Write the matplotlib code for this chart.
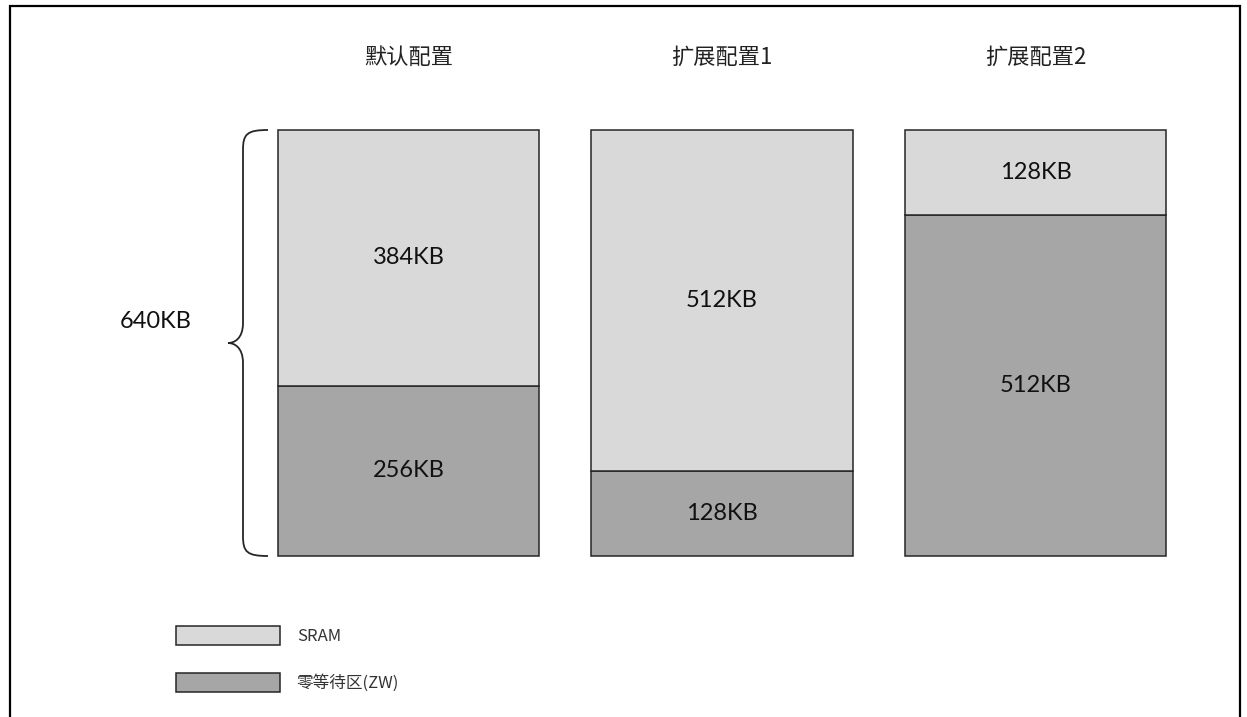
import matplotlib
matplotlib.use("Agg")
import matplotlib.pyplot as plt
from matplotlib.patches import Patch, PathPatch
from matplotlib.path import Path

# ---- data ----
configs = ["默认配置", "扩展配置1", "扩展配置2"]
zw_kb = [256, 128, 512]      # 零等待区 (bottom)
sram_kb = [384, 512, 128]    # SRAM (top)
total_label = "640KB"
series_names = ["SRAM", "零等待区(ZW)"]

LIGHT = "#D9D9D9"
DARK = "#A6A6A6"
EDGE = "#262626"
CJK = ["Noto Sans CJK SC", "DejaVu Sans"]
LAT = ["Lato", "Noto Sans CJK SC", "DejaVu Sans"]

W, H = 1247, 717
fig = plt.figure(figsize=(W / 100, H / 100), dpi=100)

# overlay axes in pixel coordinates for decoration
ov = fig.add_axes([0, 0, 1, 1])
ov.set_xlim(0, W)
ov.set_ylim(H, 0)
ov.axis("off")
ov.set_zorder(0)

# outer frame (bottom edge runs off the picture)
ov.plot([10, 10, 1240, 1240], [H + 5, 6, 6, H + 5], color="black", lw=1.6,
        solid_joinstyle="miter", clip_on=False)

# bar axes
bx0, bx1 = 251.75, 1192.25
by_top, by_bot = 130, 556
ax = fig.add_axes([bx0 / W, (H - by_bot) / H, (bx1 - bx0) / W, (by_bot - by_top) / H])
ax.set_zorder(1)
ax.patch.set_alpha(0)
ax.set_xlim(-0.5, len(configs) - 0.5)
ax.set_ylim(0, max(a + b for a, b in zip(zw_kb, sram_kb)))
ax.axis("off")

x = list(range(len(configs)))
width = 0.833
ax.bar(x, zw_kb, width=width, color=DARK, edgecolor=EDGE, linewidth=1.1, clip_on=False)
ax.bar(x, sram_kb, width=width, bottom=zw_kb, color=LIGHT, edgecolor=EDGE,
       linewidth=1.1, clip_on=False)

for i in x:
    ax.text(i, zw_kb[i] / 2, f"{zw_kb[i]}KB", ha="center", va="center",
            fontsize=17, family=LAT, color="#111111")
    ax.text(i, zw_kb[i] + sram_kb[i] / 2, f"{sram_kb[i]}KB", ha="center",
            va="center", fontsize=17, family=LAT, color="#111111")
    ax.annotate(configs[i], xy=(i, 1), xycoords=("data", "axes fraction"),
                xytext=(0, 52), textcoords="offset points", ha="center",
                va="center", fontsize=16, family=CJK, color="#222222")

# curly brace
xl, xm, xt = 268, 243, 228
yt, yb = 130, 556
ym = (yt + yb) / 2
r = 20
verts = [
    (xl, yt), (xm + 4, yt), (xm, yt + 4), (xm, yt + r),
    (xm, ym - r),
    (xm, ym - 4), (xt + 6, ym), (xt, ym),
    (xt + 6, ym), (xm, ym + 4), (xm, ym + r),
    (xm, yb - r),
    (xm, yb - 4), (xm + 4, yb), (xl, yb),
]
codes = [Path.MOVETO, Path.CURVE4, Path.CURVE4, Path.CURVE4,
         Path.LINETO,
         Path.CURVE4, Path.CURVE4, Path.CURVE4,
         Path.CURVE4, Path.CURVE4, Path.CURVE4,
         Path.LINETO,
         Path.CURVE4, Path.CURVE4, Path.CURVE4]
ov.add_patch(PathPatch(Path(verts, codes), facecolor="none", edgecolor=EDGE, lw=1.3))
ov.text(156, ym - 22, total_label, ha="center", va="center", fontsize=17,
        family=LAT, color="#111111")

# legend
handles = [Patch(facecolor=LIGHT, edgecolor=EDGE, linewidth=1.1),
           Patch(facecolor=DARK, edgecolor=EDGE, linewidth=1.1)]
leg = fig.legend(handles, series_names, loc="upper left",
                 bbox_to_anchor=(176 / W, (H - 626) / H), frameon=False,
                 prop={"family": CJK, "size": 12}, handlelength=6.25,
                 handleheight=1.38, handletextpad=1.0, labelspacing=1.65,
                 borderpad=0, borderaxespad=0)
for t in leg.get_texts():
    t.set_color("#333333")

fig.savefig("out.png", dpi=100)
